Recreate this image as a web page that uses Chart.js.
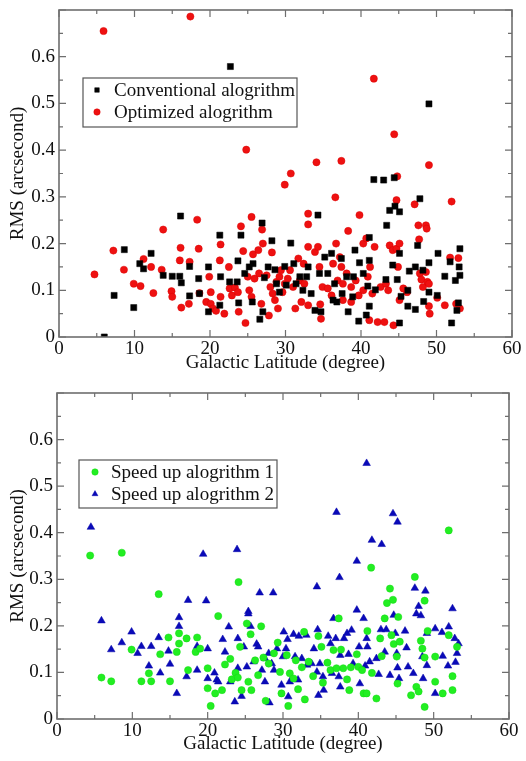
<!DOCTYPE html>
<html>
<head>
<meta charset="utf-8">
<script src="https://cdn.jsdelivr.net/npm/chart.js@4"></script>
<style>
html,body{margin:0;padding:0;background:#fff;width:526px;height:761px;overflow:hidden;}
.box{position:absolute;left:0;width:526px;}
#b1{top:0;height:380px;}
#b2{top:380px;height:381px;}
</style>
</head>
<body>
<div class="box" id="b1"><canvas id="c1"></canvas></div>
<div class="box" id="b2"><canvas id="c2"></canvas></div>
<script>
// ---- Data (Galactic latitude in degrees, RMS in arcseconds) ----
const xTicks = [0, 10, 20, 30, 40, 50, 60];
const yTicks = [0, 0.1, 0.2, 0.3, 0.4, 0.5, 0.6];

const convLabel = "Conventional alogrithm";
const convX = [6.0,7.3,8.65,9.9,10.7,11.2,12.2,13.8,15.0,16.0,16.1,16.2,17.3,17.3,18.5,18.6,19.8,19.8,21.3,21.4,21.3,22.7,22.6,23.6,23.7,24.1,23.8,24.6,25.2,25.7,25.6,26.6,26.9,27.2,27.0,27.7,28.2,28.6,28.8,29.2,29.9,30.1,30.7,31.1,31.4,31.9,32.3,33.0,32.8,33.4,33.9,34.3,34.5,34.7,35.2,35.6,36.1,36.3,36.5,36.8,37.4,37.5,38.1,38.3,38.9,39.0,39.2,39.7,39.8,40.3,40.7,40.9,41.1,41.1,41.1,41.7,41.9,43.0,43.3,43.4,43.8,44.2,44.4,44.5,44.8,45.1,45.1,45.1,45.3,46.2,46.2,46.4,47.2,47.2,47.5,47.8,48.2,48.3,49.0,49.0,49.0,50.1,50.2,51.1,51.8,52.0,52.5,52.7,53.0,53.1,53.1,52.9];
const convY = [0.0,0.089,0.187,0.063,0.157,0.146,0.179,0.132,0.13,0.13,0.259,0.116,0.151,0.088,0.125,0.093,0.15,0.054,0.218,0.129,0.068,0.579,0.118,0.118,0.163,0.218,0.073,0.136,0.15,0.157,0.075,0.038,0.244,0.127,0.054,0.15,0.206,0.144,0.114,0.096,0.151,0.111,0.201,0.157,0.114,0.129,0.1,0.15,0.129,0.093,0.057,0.261,0.136,0.054,0.171,0.136,0.179,0.079,0.114,0.075,0.168,0.093,0.129,0.054,0.086,0.129,0.186,0.034,0.159,0.136,0.047,0.109,0.164,0.066,0.213,0.337,0.101,0.336,0.123,0.239,0.271,0.154,0.341,0.28,0.123,0.268,0.179,0.03,0.087,0.1,0.066,0.141,0.15,0.059,0.196,0.296,0.143,0.076,0.499,0.159,0.096,0.089,0.179,0.13,0.161,0.03,0.121,0.057,0.15,0.189,0.132,0.073];

const optLabel = "Optimized alogrithm";
const optX = [5.9,17.4,41.7,44.4,24.8,34.1,37.4,49.0,30.7,29.9,44.8,36.6,44.7,47.1,52.0,33.0,25.5,18.3,39.8,33.0,47.6,48.6,48.7,24.1,13.8,26.9,38.3,47.7,4.7,7.2,8.6,9.9,10.8,11.2,12.2,12.5,13.6,14.9,15.0,16.0,16.1,16.2,17.3,17.2,18.5,18.6,19.5,19.9,20.1,20.1,20.4,20.8,21.3,21.4,21.4,21.9,22.5,22.6,22.9,23.3,23.7,23.8,24.4,24.7,25.0,25.2,25.5,25.7,25.9,26.4,26.5,26.8,27.0,27.5,27.8,28.0,28.2,28.3,28.6,28.8,29.0,29.2,29.4,29.6,29.9,30.3,30.6,31.0,31.3,31.7,31.9,32.1,32.4,32.5,33.0,33.0,33.9,34.3,34.5,34.6,34.7,34.9,35.6,36.1,36.3,36.7,36.9,37.2,37.4,37.6,37.6,38.1,38.7,38.7,39.3,39.7,40.3,40.3,40.7,40.9,41.1,41.2,41.5,41.8,42.2,42.6,43.1,43.3,43.6,43.8,44.3,44.2,44.7,44.9,45.1,45.1,45.6,46.1,47.8,48.0,48.2,48.6,48.8,49.0,49.1,49.0,50.1,51.1,51.8,52.6,52.9,53.1];
const optY = [0.655,0.686,0.553,0.434,0.401,0.374,0.377,0.368,0.35,0.326,0.344,0.299,0.293,0.284,0.29,0.264,0.257,0.251,0.261,0.241,0.239,0.239,0.232,0.237,0.23,0.23,0.227,0.209,0.134,0.185,0.144,0.114,0.109,0.167,0.15,0.094,0.144,0.098,0.086,0.164,0.191,0.063,0.161,0.071,0.189,0.094,0.075,0.129,0.096,0.071,0.061,0.056,0.164,0.198,0.086,0.05,0.15,0.104,0.089,0.106,0.096,0.054,0.184,0.03,0.129,0.1,0.086,0.177,0.125,0.186,0.136,0.071,0.2,0.132,0.046,0.107,0.181,0.093,0.079,0.118,0.061,0.129,0.143,0.096,0.114,0.125,0.143,0.107,0.061,0.168,0.121,0.075,0.157,0.114,0.193,0.068,0.182,0.193,0.15,0.07,0.039,0.107,0.104,0.089,0.157,0.2,0.121,0.171,0.15,0.114,0.079,0.136,0.075,0.107,0.121,0.089,0.2,0.1,0.211,0.129,0.036,0.15,0.093,0.193,0.032,0.107,0.032,0.114,0.1,0.196,0.025,0.186,0.189,0.15,0.2,0.079,0.104,0.096,0.136,0.123,0.107,0.139,0.118,0.066,0.05,0.114,0.084,0.068,0.17,0.071,0.169,0.061];

const sp1Label = "Speed up alogrithm 1";
const sp1X = [4.4,5.9,7.2,8.6,9.9,11.2,12.2,12.5,13.5,13.7,14.8,15.0,15.9,16.2,16.2,17.2,17.4,18.6,18.4,19.0,20.0,20.0,20.4,21.0,21.4,21.9,22.3,23.0,23.2,23.7,24.0,24.1,24.3,24.5,25.2,25.4,25.7,25.8,26.3,26.7,27.1,27.4,27.7,28.1,28.8,29.3,29.6,29.8,30.5,30.7,30.9,31.4,31.7,32.0,32.5,32.8,32.9,33.4,34.0,34.7,35.1,35.3,35.9,36.3,36.7,37.1,37.4,37.7,38.0,38.5,38.8,39.0,39.8,40.0,40.5,40.7,41.1,41.2,41.7,41.8,42.4,42.9,43.1,43.5,43.8,44.2,44.4,44.6,44.7,45.1,45.2,45.3,45.5,47.0,47.5,47.7,48.0,48.3,48.5,48.8,48.8,48.8,49.2,50.2,50.2,51.2,52.0,52.0,52.5,52.5,53.1];
const sp1Y = [0.351,0.089,0.081,0.357,0.149,0.081,0.098,0.081,0.268,0.139,0.175,0.081,0.144,0.184,0.162,0.173,0.105,0.175,0.144,0.151,0.109,0.066,0.028,0.055,0.221,0.062,0.117,0.129,0.085,0.099,0.089,0.294,0.155,0.062,0.205,0.08,0.182,0.062,0.126,0.094,0.199,0.132,0.039,0.119,0.141,0.164,0.101,0.055,0.137,0.028,0.098,0.087,0.126,0.064,0.111,0.187,0.042,0.123,0.092,0.178,0.155,0.078,0.121,0.105,0.148,0.109,0.216,0.149,0.109,0.085,0.062,0.111,0.139,0.112,0.105,0.055,0.055,0.189,0.325,0.099,0.044,0.173,0.135,0.216,0.249,0.28,0.18,0.256,0.161,0.134,0.076,0.219,0.166,0.051,0.305,0.069,0.059,0.168,0.151,0.254,0.026,0.132,0.189,0.134,0.08,0.055,0.405,0.18,0.092,0.062,0.155];

const sp2Label = "Speed up alogrithm 2";
const sp2X = [4.5,5.9,7.2,8.6,9.9,10.7,11.2,12.2,12.5,13.5,13.7,14.8,15.0,15.9,16.2,16.2,17.4,17.2,18.6,18.6,19.4,19.8,20.0,20.0,20.9,21.2,21.4,22.0,22.3,22.8,23.0,23.6,24.0,24.0,23.9,24.5,24.8,25.2,25.4,25.4,25.7,26.1,26.5,26.9,26.7,27.2,27.6,27.6,28.1,28.2,28.5,28.7,28.8,29.2,29.8,30.0,30.1,30.4,30.6,30.7,30.9,31.4,31.6,32.1,32.0,32.5,33.1,33.2,33.8,34.1,34.5,34.6,34.5,34.7,34.9,35.3,35.4,36.0,36.3,36.5,36.7,37.1,37.0,37.4,37.5,37.6,37.6,38.1,38.5,38.7,39.1,39.3,39.8,39.8,40.1,40.2,40.7,40.9,41.1,41.1,41.2,41.5,41.8,42.4,42.7,43.1,43.0,43.5,43.7,44.2,44.6,44.7,44.9,45.1,45.2,45.2,45.4,46.2,46.4,46.6,47.3,47.5,47.7,48.0,48.3,48.5,48.6,48.9,49.1,49.1,50.2,50.2,51.2,51.1,51.9,52.0,52.5,52.8,52.9,53.1,53.3];
const sp2Y = [0.412,0.211,0.149,0.164,0.187,0.141,0.156,0.114,0.156,0.175,0.099,0.146,0.118,0.055,0.218,0.199,0.255,0.091,0.156,0.105,0.354,0.254,0.151,0.087,0.099,0.084,0.08,0.171,0.144,0.198,0.08,0.037,0.173,0.109,0.364,0.049,0.155,0.112,0.231,0.226,0.199,0.123,0.161,0.271,0.155,0.105,0.13,0.08,0.141,0.035,0.119,0.271,0.105,0.151,0.073,0.134,0.187,0.151,0.171,0.048,0.08,0.182,0.134,0.178,0.084,0.13,0.18,0.116,0.119,0.151,0.284,0.192,0.101,0.051,0.119,0.091,0.062,0.178,0.162,0.098,0.216,0.444,0.173,0.091,0.304,0.137,0.069,0.173,0.184,0.139,0.191,0.119,0.339,0.234,0.155,0.076,0.216,0.114,0.549,0.173,0.155,0.123,0.384,0.13,0.096,0.375,0.192,0.144,0.192,0.094,0.441,0.223,0.184,0.141,0.11,0.423,0.087,0.189,0.153,0.112,0.098,0.281,0.226,0.242,0.222,0.134,0.087,0.275,0.184,0.115,0.194,0.055,0.135,0.186,0.114,0.198,0.237,0.173,0.122,0.141,0.162];

// ---- helpers ----
const pts = (xs, ys) => xs.map((x, i) => ({x: x, y: ys[i]}));
const FONT = "'Liberation Serif', 'DejaVu Serif', serif";

const framePlugin = {
  id: 'frameTicks',
  afterDatasetsDraw(chart) {
    const {ctx, chartArea: a, scales} = chart;
    const xs = scales.x, ys = scales.y;
    ctx.save();
    ctx.strokeStyle = '#6e6e6e';
    ctx.lineWidth = 1.6;
    ctx.strokeRect(a.left, a.top, a.right - a.left, a.bottom - a.top);
    ctx.lineWidth = 1.2;
    ctx.beginPath();
    for (let v = xs.min; v <= xs.max + 1e-9; v += 5) {
      const p = xs.getPixelForValue(v);
      const L = (Math.round(v) % 10 === 0) ? 7 : 4;
      ctx.moveTo(p, a.bottom); ctx.lineTo(p, a.bottom - L);
      ctx.moveTo(p, a.top); ctx.lineTo(p, a.top + L);
    }
    for (let k = 0; k <= 14; k++) {
      const v = k * 0.05;
      const p = ys.getPixelForValue(v);
      const L = (k % 2 === 0) ? 7 : 4;
      ctx.moveTo(a.left, p); ctx.lineTo(a.left + L, p);
      ctx.moveTo(a.right, p); ctx.lineTo(a.right - L, p);
    }
    ctx.stroke();
    ctx.restore();
  }
};

const legendPlugin = {
  id: 'inLegend',
  afterDraw(chart, args, opts) {
    const {ctx} = chart;
    const b = opts.box;
    ctx.save();
    ctx.fillStyle = '#fff';
    ctx.fillRect(b.x, b.y, b.w, b.h);
    ctx.strokeStyle = '#555';
    ctx.lineWidth = 1.2;
    ctx.strokeRect(b.x, b.y, b.w, b.h);
    ctx.font = '19px ' + FONT;
    ctx.textBaseline = 'middle';
    ctx.textAlign = 'left';
    chart.data.datasets.forEach((ds, i) => {
      const cy = b.y + opts.rows[i];
      ctx.fillStyle = ds.backgroundColor;
      ctx.strokeStyle = ds.borderColor;
      ctx.lineWidth = 0.5;
      Chart.helpers.drawPoint(ctx, {pointStyle: ds.pointStyle, radius: opts.markR[i], borderWidth: 0.5, rotation: 0}, b.x + opts.markX, cy);
      ctx.fillStyle = '#111';
      ctx.fillText(ds.label, b.x + opts.textX, cy + 1);
    });
    ctx.restore();
  }
};

function makeChart(id, datasets, cfg) {
  return new Chart(document.getElementById(id), {
    type: 'scatter',
    data: {datasets: datasets},
    plugins: [framePlugin, legendPlugin],
    options: {
      responsive: true,
      maintainAspectRatio: false,
      animation: false,
      layout: {padding: cfg.pad},
      plugins: {
        legend: {display: false},
        tooltip: {enabled: false},
        inLegend: cfg.legend
      },
      scales: {
        x: {
          type: 'linear', min: 0, max: 60,
          afterBuildTicks: s => { s.ticks = xTicks.map(v => ({value: v})); },
          afterFit: s => { s.height = cfg.xh; s.paddingLeft = 0; s.paddingRight = 0; },
          grid: {display: false, drawTicks: false},
          border: {display: false},
          ticks: {color: '#111', font: {family: FONT, size: 19}, padding: 1, maxRotation: 0, autoSkip: false},
          title: {display: true, text: 'Galactic Latitude (degree)', color: '#111',
                  font: {family: FONT, size: 19}, padding: {top: 0, bottom: 6}}
        },
        y: {
          type: 'linear', min: 0, max: 0.7,
          afterBuildTicks: s => { s.ticks = yTicks.map(v => ({value: v})); },
          afterFit: s => { s.width = cfg.yw; s.paddingTop = 0; s.paddingBottom = 0; },
          grid: {display: false, drawTicks: false},
          border: {display: false},
          ticks: {color: '#111', font: {family: FONT, size: 19}, padding: 4, autoSkip: false,
                  callback: v => String(Math.round(v * 10) / 10)},
          title: {display: true, text: 'RMS (arcsecond)', color: '#111',
                  font: {family: FONT, size: 19}, padding: {top: 7, bottom: 0}}
        }
      }
    }
  });
}

makeChart('c1', [
  {label: convLabel, data: pts(convX, convY), pointStyle: 'rect', pointRadius: 4.3,
   backgroundColor: '#000', borderColor: '#000', borderWidth: 0.5},
  {label: optLabel, data: pts(optX, optY), pointStyle: 'circle', pointRadius: 3.6,
   backgroundColor: '#ee1111', borderColor: '#dd0000', borderWidth: 0.5}
], {
  pad: {left: 0, right: 14, top: 10, bottom: 0}, xh: 43, yw: 59,
  legend: {box: {x: 83, y: 78, w: 214, h: 49}, rows: [12, 34], markX: 14, textX: 31, markR: [3.2, 3.2]}
});

makeChart('c2', [
  {label: sp1Label, data: pts(sp1X, sp1Y), pointStyle: 'circle', pointRadius: 3.6,
   backgroundColor: '#22ee22', borderColor: '#11dd11', borderWidth: 0.5},
  {label: sp2Label, data: pts(sp2X, sp2Y), pointStyle: 'triangle', pointRadius: 4.4,
   backgroundColor: '#0a0ab8', borderColor: '#0000aa', borderWidth: 0.5}
], {
  pad: {left: 0, right: 17, top: 13, bottom: 0}, xh: 42, yw: 57,
  legend: {box: {x: 79, y: 80, w: 198, h: 48}, rows: [12, 34], markX: 16, textX: 32, markR: [3.2, 3.4]}
});
</script>
</body>
</html>
